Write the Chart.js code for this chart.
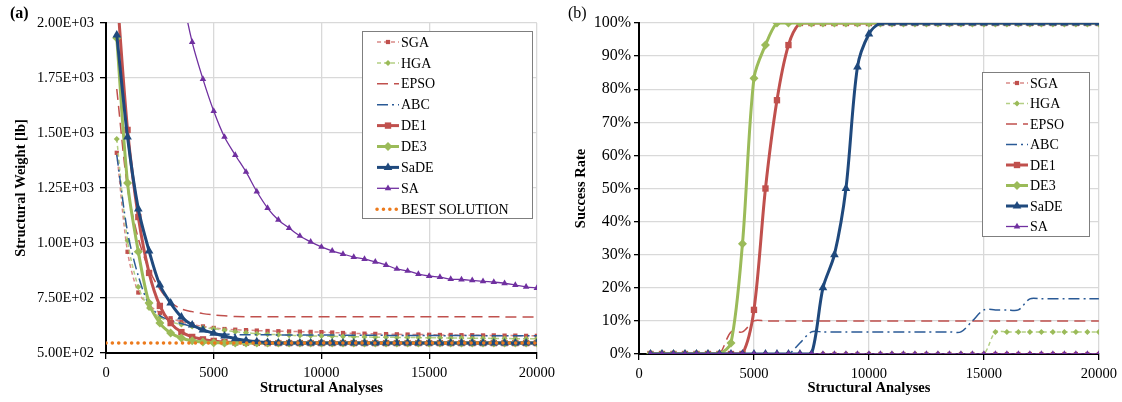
<!DOCTYPE html>
<html>
<head>
<meta charset="utf-8">
<script src="https://cdn.jsdelivr.net/npm/chart.js@4.4.1/dist/chart.umd.min.js"></script>
<style>
  html, body { margin: 0; padding: 0; background: #fff; }
  #wrap { position: relative; width: 1122px; height: 402px; font-family: 'Liberation Serif', 'Times New Roman', serif; }
  .panel { position: absolute; top: 0; }
  #pa { left: 0; }
  #pb { left: 560px; }
  .tag { position: absolute; top: 4px; font-size: 16px; color: #000; }
</style>
</head>
<body>
<div id="wrap">
  <div class="panel" id="pa"><canvas id="chartA" width="560" height="402"></canvas></div>
  <div class="panel" id="pb"><canvas id="chartB" width="562" height="402"></canvas></div>
  <div class="tag" style="left:10px;font-weight:bold">(a)</div>
  <div class="tag" style="left:568px">(b)</div>
</div>

<script>
'use strict';

/* ── DATA ─────────────────────────── */
const analyses = [500, 1000, 1500, 2000, 2500, 3000, 3500, 4000, 4500, 5000,
  5500, 6000, 6500, 7000, 7500, 8000, 8500, 9000, 9500, 10000,
  10500, 11000, 11500, 12000, 12500, 13000, 13500, 14000, 14500, 15000,
  15500, 16000, 16500, 17000, 17500, 18000, 18500, 19000, 19500, 20000];

// (a) structural weight [lb]
const wSGA  = [1410, 960, 775, 718, 682, 658, 642, 630, 621, 614, 609, 606, 604, 602, 600, 599, 598, 597, 596, 595,
  593, 591, 589, 588, 587, 586, 585, 584, 584, 583, 582, 582, 581, 581, 580, 580, 579, 579, 578, 578];
const wHGA  = [1473, 1010, 800, 705, 662, 642, 630, 621, 615, 610, 603, 597, 592, 588, 585, 583, 581, 579, 578, 577,
  576, 575, 574, 573, 572, 572, 571, 570, 570, 569, 569, 568, 568, 567, 567, 566, 566, 565, 565, 565];
const wEPSO = [1700, 1250, 1020, 880, 790, 730, 700, 688, 679, 673, 669, 666, 665, 665, 665, 665, 665, 665, 665, 665,
  665, 665, 665, 665, 665, 665, 665, 665, 665, 665, 665, 665, 665, 665, 665, 665, 664, 664, 664, 664];
const wABC  = [1400, 1050, 850, 720, 670, 648, 634, 620, 600, 590, 586, 584, 583, 583, 583, 582, 582, 582, 582, 582,
  582, 581, 581, 581, 581, 580, 580, 580, 580, 580, 579, 579, 579, 579, 579, 578, 578, 578, 578, 578];
const wDE1  = [2150, 1514, 1118, 864, 714, 636, 595, 573, 562, 555, 550, 548, 547, 546, 545, 545, 545, 545, 545, 545,
  545, 545, 545, 545, 545, 545, 545, 545, 545, 545, 545, 545, 545, 545, 545, 545, 545, 545, 545, 545];
const wDE3  = [1932, 1273, 960, 727, 636, 591, 568, 556, 550, 547, 546, 545, 545, 545, 545, 545, 545, 545, 545, 545,
  545, 545, 545, 545, 545, 545, 545, 545, 545, 545, 545, 545, 545, 545, 545, 545, 545, 545, 545, 545];
const wSaDE = [1945, 1482, 1155, 964, 809, 727, 664, 627, 605, 590, 577, 565, 557, 551, 548, 546, 545, 545, 545, 545,
  545, 545, 545, 545, 545, 545, 545, 545, 545, 545, 545, 545, 545, 545, 545, 545, 545, 545, 545, 545];
const wSA   = [6500, 5000, 4000, 3300, 2800, 2450, 2150, 1913, 1745, 1600, 1482, 1400, 1323, 1234, 1159, 1105, 1068, 1032, 1005, 982,
  964, 950, 936, 927, 914, 900, 882, 873, 859, 850, 845, 836, 834, 830, 826, 822, 817, 809, 801, 795];
const bestX = [0, 20000];
const best  = [545, 545];

// (b) success rate [%]
const sSGA  = [0, 0, 0, 0, 0, 0, 0, 0, 0, 0, 0, 0, 0, 0, 0, 0, 0, 0, 0, 0,
  0, 0, 0, 0, 0, 0, 0, 0, 0, 0, 0, 0, 0, 0, 0, 0, 0, 0, 0, 0];
const sHGA  = [0, 0, 0, 0, 0, 0, 0, 0, 0, 0, 0, 0, 0, 0, 0, 0, 0, 0, 0, 0,
  0, 0, 0, 0, 0, 0, 0, 0, 0, 0, 6.67, 6.67, 6.67, 6.67, 6.67, 6.67, 6.67, 6.67, 6.67, 6.67];
const sEPSO = [0, 0, 0, 0, 0, 0, 0, 6.67, 6.67, 10, 10, 10, 10, 10, 10, 10, 10, 10, 10, 10,
  10, 10, 10, 10, 10, 10, 10, 10, 10, 10, 10, 10, 10, 10, 10, 10, 10, 10, 10, 10];
const sABC  = [0, 0, 0, 0, 0, 0, 0, 0, 0, 0, 0, 0, 0, 3.33, 6.67, 6.67, 6.67, 6.67, 6.67, 6.67,
  6.67, 6.67, 6.67, 6.67, 6.67, 6.67, 6.67, 6.67, 10, 13.33, 13.33, 13.33, 13.33, 16.67, 16.67, 16.67, 16.67, 16.67, 16.67, 16.67];
const sDE1  = [0, 0, 0, 0, 0, 0, 0, 0, 0, 13.33, 50, 76.67, 93.33, 100, 100, 100, 100, 100, 100, 100,
  100, 100, 100, 100, 100, 100, 100, 100, 100, 100, 100, 100, 100, 100, 100, 100, 100, 100, 100, 100];
const sDE3  = [0, 0, 0, 0, 0, 0, 0, 3.33, 33.33, 83.33, 93.33, 100, 100, 100, 100, 100, 100, 100, 100, 100,
  100, 100, 100, 100, 100, 100, 100, 100, 100, 100, 100, 100, 100, 100, 100, 100, 100, 100, 100, 100];
const sSaDE = [0, 0, 0, 0, 0, 0, 0, 0, 0, 0, 0, 0, 0, 0, 0, 20, 30, 50, 86.67, 96.67,
  100, 100, 100, 100, 100, 100, 100, 100, 100, 100, 100, 100, 100, 100, 100, 100, 100, 100, 100, 100];
const sSA   = [0, 0, 0, 0, 0, 0, 0, 0, 0, 0, 0, 0, 0, 0, 0, 0, 0, 0, 0, 0,
  0, 0, 0, 0, 0, 0, 0, 0, 0, 0, 0, 0, 0, 0, 0, 0, 0, 0, 0, 0];

/* ── STYLES ─────────────────────────── */
const RED = '#c0504d', GREEN = '#9bbb59', NAVY = '#1f497d', PURPLE = '#7030a0', ORANGE = '#ec7a1c';
const FONT = "'Liberation Serif', 'Times New Roman', serif";

const styles = {
  SGA:  { borderColor: '#d98a88', borderWidth: 1.5, borderDash: [4, 3], pointStyle: 'rect', pointRadius: 3, mColor: RED },
  HGA:  { borderColor: '#b4cf84', borderWidth: 1.5, borderDash: [4, 3], pointStyle: 'rectRot', pointRadius: 3, mColor: GREEN },
  EPSO: { borderColor: RED, borderWidth: 1.5, borderDash: [11, 6], pointRadius: 0 },
  ABC:  { borderColor: '#2a5a96', borderWidth: 1.5, borderDash: [11, 4, 2, 4], pointRadius: 0 },
  DE1:  { borderColor: RED, borderWidth: 3, pointStyle: 'rect', pointRadius: 4.5, mColor: RED },
  DE3:  { borderColor: GREEN, borderWidth: 3, pointStyle: 'rectRot', pointRadius: 4.5, mColor: GREEN },
  SaDE: { borderColor: NAVY, borderWidth: 3, pointStyle: 'triangle', pointRadius: 5, mColor: NAVY },
  SA:   { borderColor: PURPLE, borderWidth: 1.3, pointStyle: 'triangle', pointRadius: 3.8, mColor: PURPLE },
  BEST: { borderColor: ORANGE, borderWidth: 3.5, borderDash: [0.1, 6.3], borderCapStyle: 'round', pointRadius: 0 },
};

function series(label, key, xs, ys, idx) {
  const s = styles[key];
  return {
    label,
    data: xs.map((x, i) => ({ x, y: ys[i] })),
    borderColor: s.borderColor,
    borderWidth: s.borderWidth,
    borderDash: s.borderDash || [],
    borderCapStyle: s.borderCapStyle || 'butt',
    pointStyle: s.pointStyle || 'circle',
    pointRadius: s.pointRadius,
    pointBackgroundColor: s.mColor || s.borderColor,
    pointBorderColor: s.mColor || s.borderColor,
    pointBorderWidth: 0,
    order: -idx,            // later series on top, like the source
    _key: key,
  };
}

/* ── BOXED LEGEND INSIDE PLOT ─────────────────────────── */
const boxLegend = {
  id: 'boxLegend',
  afterDraw(chart, args, o) {
    const ctx = chart.ctx;
    ctx.save();
    ctx.fillStyle = '#fff';
    ctx.fillRect(o.x, o.y, o.w, o.h);
    ctx.strokeStyle = '#7f7f7f';
    ctx.lineWidth = 1;
    ctx.strokeRect(o.x + 0.5, o.y + 0.5, o.w, o.h);
    chart.data.datasets.forEach((ds, i) => {
      const s = styles[ds._key];
      const y = o.y + o.first + i * o.row;
      ctx.beginPath();
      ctx.setLineDash(s.borderDash || []);
      ctx.lineCap = s.borderCapStyle || 'butt';
      ctx.strokeStyle = s.borderColor;
      ctx.lineWidth = s.borderWidth;
      ctx.moveTo(o.x + o.lineFrom, y);
      ctx.lineTo(o.x + o.lineTo, y);
      ctx.stroke();
      ctx.setLineDash([]);
      if (s.pointRadius > 0) {
        ctx.fillStyle = s.mColor;
        ctx.strokeStyle = s.mColor;
        Chart.helpers.drawPoint(ctx, { pointStyle: s.pointStyle, radius: s.pointRadius, rotation: 0, borderWidth: 0 },
          o.x + (o.lineFrom + o.lineTo) / 2, y);
      }
      ctx.fillStyle = '#000';
      ctx.font = o.fontSize + 'px ' + FONT;
      ctx.textBaseline = 'middle';
      ctx.textAlign = 'left';
      ctx.fillText(ds.label, o.x + o.lineTo + 2, y + 1);
    });
    ctx.restore();
  },
};

/* ── COMMON AXIS OPTIONS ─────────────────────────── */
const tickFont  = { family: FONT, size: 14.5 };
const titleFont = { family: FONT, size: 14.5, weight: 'bold' };
const gridOpt   = { color: '#d9d9d9', lineWidth: 1.3, tickLength: 6, tickColor: '#000', tickWidth: 1.3 };
const borderOpt = { color: '#000', width: 2 };

function sciLabel(v) {
  const [m, e] = v.toExponential(2).split('e');
  return m + 'E' + e[0] + e.slice(1).padStart(2, '0');
}

function xAxis(h) {
  return {
    type: 'linear', min: 0, max: 20000,
    ticks: { stepSize: 5000, callback: v => String(v), font: tickFont, color: '#000', padding: 5, maxRotation: 0 },
    grid: gridOpt, border: borderOpt,
    title: { display: true, text: 'Structural Analyses', font: titleFont, color: '#000', padding: { top: 5, bottom: 5 } },
    afterFit: s => { s.height = h; },
  };
}

Chart.defaults.font.family = FONT;
Chart.defaults.color = '#000';

const common = {
  responsive: false,
  animation: false,
  devicePixelRatio: 1,
  elements: { line: { tension: 0.3, fill: false } },
};

/* ── (a) STRUCTURAL WEIGHT ─────────────────────────── */
new Chart(document.getElementById('chartA'), {
  type: 'line',
  data: {
    datasets: [
      series('SGA', 'SGA', analyses, wSGA, 0),
      series('HGA', 'HGA', analyses, wHGA, 1),
      series('EPSO', 'EPSO', analyses, wEPSO, 2),
      series('ABC', 'ABC', analyses, wABC, 3),
      series('DE1', 'DE1', analyses, wDE1, 4),
      series('DE3', 'DE3', analyses, wDE3, 5),
      series('SaDE', 'SaDE', analyses, wSaDE, 6),
      series('SA', 'SA', analyses, wSA, 7),
      series('BEST SOLUTION', 'BEST', bestX, best, 8),
    ],
  },
  options: {
    ...common,
    layout: { padding: { left: 0, top: 23, right: 21, bottom: 0 } },
    plugins: {
      legend: { display: false },
      tooltip: { enabled: false },
      boxLegend: { x: 362, y: 31, w: 170, h: 187, first: 11, row: 20.9, lineFrom: 15, lineTo: 37, fontSize: 14 },
    },
    scales: {
      x: xAxis(49),
      y: {
        min: 500, max: 2000,
        ticks: { stepSize: 250, callback: v => sciLabel(v), font: tickFont, color: '#000', padding: 6 },
        grid: gridOpt, border: borderOpt,
        title: { display: true, text: 'Structural Weight [lb]', font: titleFont, color: '#000', padding: { top: 13, bottom: 13 } },
        afterFit: s => { s.width = 106; },
      },
    },
  },
  plugins: [boxLegend],
});

/* ── (b) SUCCESS RATE ─────────────────────────── */
new Chart(document.getElementById('chartB'), {
  type: 'line',
  data: {
    datasets: [
      series('SGA', 'SGA', analyses, sSGA, 0),
      series('HGA', 'HGA', analyses, sHGA, 1),
      series('EPSO', 'EPSO', analyses, sEPSO, 2),
      series('ABC', 'ABC', analyses, sABC, 3),
      series('DE1', 'DE1', analyses, sDE1, 4),
      series('DE3', 'DE3', analyses, sDE3, 5),
      series('SaDE', 'SaDE', analyses, sSaDE, 6),
      series('SA', 'SA', analyses, sSA, 7),
    ],
  },
  options: {
    ...common,
    layout: { padding: { left: 0, top: 23, right: 23, bottom: 0 } },
    plugins: {
      legend: { display: false },
      tooltip: { enabled: false },
      boxLegend: { x: 422, y: 72, w: 107, h: 164, first: 11, row: 20.5, lineFrom: 24, lineTo: 46, fontSize: 14 },
    },
    scales: {
      x: xAxis(48),
      y: {
        min: 0, max: 100,
        ticks: { stepSize: 10, callback: v => v + '%', font: { family: FONT, size: 16 }, color: '#000', padding: 3 },
        grid: { ...gridOpt, tickLength: 5 }, border: borderOpt,
        title: { display: true, text: 'Success Rate', font: titleFont, color: '#000', padding: { top: 13, bottom: 13 } },
        afterFit: s => { s.width = 79; },
      },
    },
  },
  plugins: [boxLegend],
});
</script>
</body>
</html>
